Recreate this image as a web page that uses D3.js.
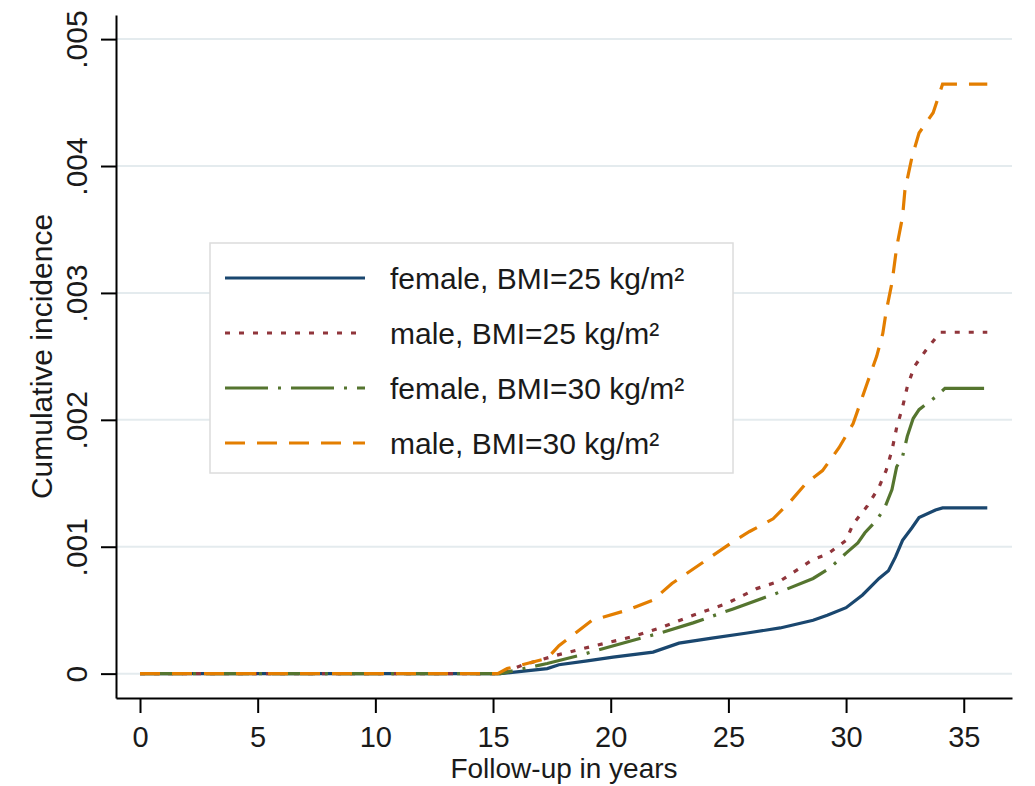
<!DOCTYPE html>
<html>
<head>
<meta charset="utf-8">
<script src="https://cdn.jsdelivr.net/npm/d3@7"></script>
<style>
    body { margin: 0; background: #fff; }
    svg { font-family: "Liberation Sans", Arial, sans-serif; }
    .grid line { stroke: #e4ebee; stroke-width: 2; }
    .axis path, .axis line { stroke: #000; stroke-width: 2; }
    .axis text { font-size: 30px; fill: #1a1a1a; }
    .x-axis text { font-size: 29px; }
    .axis-title { font-size: 30px; fill: #1a1a1a; }
    .x-title { font-size: 28px; }
    .legend-box { fill: #fff; stroke: #dcdcdc; stroke-width: 1.5; }
    .legend text { font-size: 30px; fill: #1a1a1a; }
</style>
</head>
<body>
<svg id="viz"></svg>
<script>
// [years, cumulative incidence]
const femaleBmi25 = [[0,0],[15.3,0],[16.3,0.00002],[17.3,0.00004],[17.8,0.00007],[19.0,0.0001],[20.1,0.00013],[21.8,0.00017],[22.9,0.00024],[24.3,0.00028],[25.8,0.00032],[27.2,0.00036],[28.6,0.00042],[29.2,0.00046],[30.0,0.00052],[30.7,0.00062],[31.4,0.00075],[31.8,0.00081],[32.1,0.00092],[32.4,0.00105],[32.8,0.00115],[33.1,0.00123],[33.8,0.00129],[34.1,0.001306],[36,0.001306]]
const maleBmi25 = [[0,0],[15.3,0],[16.3,0.00007],[17.8,0.00015],[19.1,0.00021],[20.9,0.00029],[22.1,0.00036],[23.5,0.00046],[24.9,0.00055],[26.2,0.00067],[27.2,0.00073],[28.6,0.0009],[29.2,0.00094],[30.0,0.00105],[30.3,0.00118],[30.9,0.00132],[31.4,0.00147],[31.7,0.0016],[31.95,0.00176],[32.15,0.00194],[32.4,0.0021],[32.6,0.00226],[32.9,0.00242],[33.4,0.00255],[34.0,0.00269],[36,0.00269]]
const femaleBmi30 = [[0,0],[15.3,0],[16.3,0.00004],[17.3,0.00008],[18.6,0.00014],[20.5,0.00024],[22.1,0.00032],[23.5,0.0004],[25.2,0.00051],[27.0,0.00063],[28.6,0.00075],[29.3,0.00083],[30.0,0.00095],[30.5,0.00103],[30.8,0.00111],[31.3,0.00121],[31.65,0.00131],[31.95,0.00145],[32.15,0.00163],[32.4,0.00171],[32.6,0.00187],[32.85,0.00201],[33.1,0.00208],[33.8,0.00218],[34.2,0.002248],[36,0.002248]]
const maleBmi30 = [[0,0],[15.2,0],[15.6,0.00004],[17.3,0.00012],[17.8,0.00022],[19.2,0.00042],[20.7,0.0005],[21.8,0.00058],[22.6,0.00071],[24.1,0.0009],[25.2,0.00104],[25.9,0.00112],[26.9,0.00122],[27.6,0.00135],[28.3,0.0015],[29.0,0.0016],[29.7,0.00178],[30.3,0.00197],[30.9,0.00229],[31.3,0.0025],[31.56,0.00268],[31.7,0.00285],[31.95,0.00308],[32.15,0.00336],[32.4,0.0036],[32.5,0.00381],[32.8,0.00407],[33.1,0.00426],[33.7,0.00442],[34.1,0.004645],[36,0.004645]]

const seriesNames = ['female, BMI=25 kg/m²', 'male, BMI=25 kg/m²', 'female, BMI=30 kg/m²', 'male, BMI=30 kg/m²']
const seriesData = [femaleBmi25, maleBmi25, femaleBmi30, maleBmi30]
const xTicks = [0, 5, 10, 15, 20, 25, 30, 35]
const yTicks = [0, 0.001, 0.002, 0.003, 0.004, 0.005]
const xTitle = 'Follow-up in years'
const yTitle = 'Cumulative incidence'

;(function () {
    let config = {
        width: 1035,
        height: 786,
        plot: { left: 116, right: 1012, top: 15, bottom: 698 },
        colors: ['#1a476f', '#90353b', '#55752f', '#e37e00'],
        dashes: [null, '5,9', '43,10,3,10', '20,12'],
        lineWidth: 3.2,
        tickSize: 15
    }

    function fmtY(d) {
        return d === 0 ? '0' : d3.format('.3f')(d).replace(/^0/, '')
    }

    function drawChart() {
        let p = config.plot
        let svg = d3.select('#viz')
            .attr('width', config.width)
            .attr('height', config.height)

        let xScale = d3.scaleLinear().domain([-1.02, 37.05]).range([p.left, p.right])
        let yScale = d3.scaleLinear().domain([-0.000192, 0.00519]).range([p.bottom, p.top])

        // gridlines
        svg.append('g').classed('grid', true)
            .selectAll('line').data(yTicks).join('line')
            .attr('x1', p.left).attr('x2', p.right)
            .attr('y1', d => yScale(d)).attr('y2', d => yScale(d))

        // axes
        let xAxis = svg.append('g').classed('axis', true).classed('x-axis', true)
            .attr('transform', 'translate(0,' + p.bottom + ')')
            .call(d3.axisBottom(xScale).tickValues(xTicks).tickSize(config.tickSize).tickSizeOuter(0))
        xAxis.selectAll('text').attr('dy', null).attr('y', 49)

        let yAxis = svg.append('g').classed('axis', true)
            .attr('transform', 'translate(' + p.left + ',0)')
            .call(d3.axisLeft(yScale).tickValues(yTicks).tickFormat(fmtY).tickSize(config.tickSize).tickSizeOuter(0))
        yAxis.selectAll('text')
            .attr('x', 0).attr('y', -29).attr('dy', null)
            .attr('text-anchor', 'middle')
            .attr('transform', 'rotate(-90)')

        svg.append('text').classed('axis-title', true).classed('x-title', true)
            .attr('x', (p.left + p.right) / 2).attr('y', 778)
            .attr('text-anchor', 'middle')
            .text(xTitle)
        svg.append('text').classed('axis-title', true)
            .attr('transform', 'translate(52,' + (p.top + p.bottom) / 2 + ') rotate(-90)')
            .attr('text-anchor', 'middle')
            .text(yTitle)

        // curves, orange drawn last so it sits on top
        let line = d3.line().x(d => xScale(d[0])).y(d => yScale(d[1]))
        seriesData.forEach((data, i) => {
            svg.append('path')
                .attr('d', line(data))
                .attr('fill', 'none')
                .attr('stroke', config.colors[i])
                .attr('stroke-width', config.lineWidth)
                .attr('stroke-dasharray', config.dashes[i])
        })

        // legend
        let legend = svg.append('g').classed('legend', true)
        legend.append('rect').classed('legend-box', true)
            .attr('x', 210).attr('y', 243).attr('width', 523).attr('height', 230)
        seriesNames.forEach((name, i) => {
            let y = 278 + i * 55
            legend.append('line')
                .attr('x1', 225).attr('x2', 365).attr('y1', y).attr('y2', y)
                .attr('stroke', config.colors[i])
                .attr('stroke-width', config.lineWidth)
                .attr('stroke-dasharray', config.dashes[i])
            legend.append('text')
                .attr('x', 390).attr('y', y + 11)
                .text(name)
        })
    }

    drawChart()
})()
</script>
</body>
</html>
